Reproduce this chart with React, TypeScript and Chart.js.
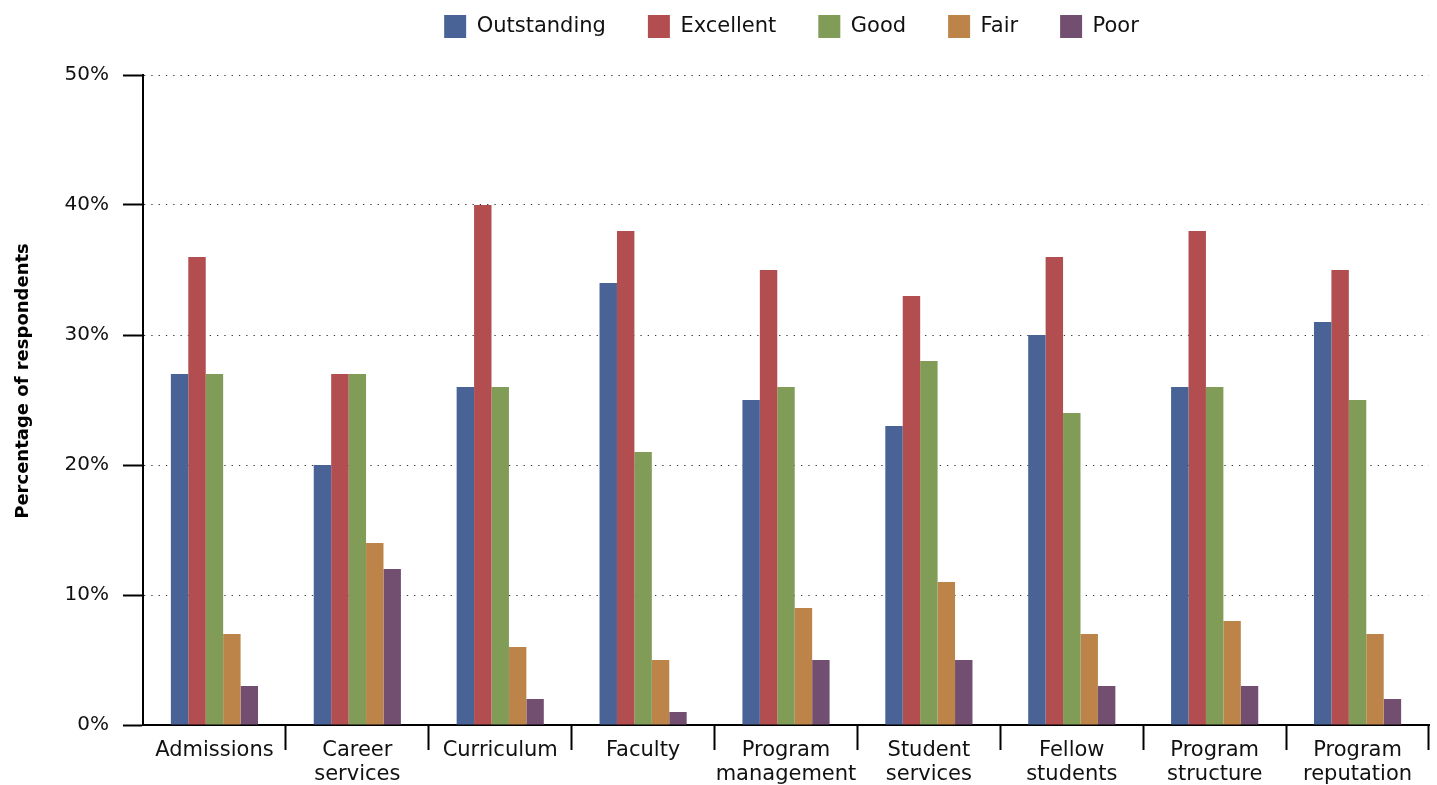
import React, { useEffect, useRef } from "react";
import { Chart, registerables } from "chart.js";

Chart.register(...registerables);

const categories: (string | string[])[] = [
  "Admissions",
  ["Career", "services"],
  "Curriculum",
  "Faculty",
  ["Program", "management"],
  ["Student", "services"],
  ["Fellow", "students"],
  ["Program", "structure"],
  ["Program", "reputation"],
];

const seriesNames = ["Outstanding", "Excellent", "Good", "Fair", "Poor"];
const seriesColors = ["#4a6396", "#b34e50", "#819c57", "#bd844a", "#724f71"];

const outstanding = [27, 20, 26, 34, 25, 23, 30, 26, 31];
const excellent = [36, 27, 40, 38, 35, 33, 36, 38, 35];
const good = [27, 27, 26, 21, 26, 28, 24, 26, 25];
const fair = [7, 14, 6, 5, 9, 11, 7, 8, 7];
const poor = [3, 12, 2, 1, 5, 5, 3, 3, 2];

const seriesValues = [outstanding, excellent, good, fair, poor];
const yTicks = [0, 10, 20, 30, 40, 50];
const yTitle = "Percentage of respondents";

const FONT = "'DejaVu Sans', sans-serif";

const layoutPlugin = {
  id: "layoutFix",
  beforeLayout(chart: any) {
    const lg = chart.legend;
    if (lg && !lg.__patched) {
      const orig = lg.fit.bind(lg);
      lg.fit = function () {
        orig();
        this.height = 102;
      };
      lg.__patched = true;
    }
  },
  afterLayout(chart: any) {
    const lg = chart.legend;
    if (lg) {
      lg.left += 77;
      lg.right += 77;
    }
  },
  afterDraw(chart: any) {
    const ctx = chart.ctx;
    ctx.save();
    ctx.translate(23, 381);
    ctx.rotate(-Math.PI / 2);
    ctx.font = `bold 18px ${FONT}`;
    ctx.fillStyle = "#000";
    ctx.textAlign = "center";
    ctx.textBaseline = "middle";
    ctx.fillText(yTitle, 0, 0);
    ctx.restore();
  },
};

export default function App() {
  const ref = useRef<HTMLCanvasElement | null>(null);
  useEffect(() => {
    if (!ref.current) return;
    const chart = new Chart(ref.current, {
      type: "bar",
      data: {
        labels: categories,
        datasets: seriesNames.map((name, i) => ({
          label: name,
          data: seriesValues[i],
          backgroundColor: seriesColors[i],
          borderWidth: 0,
          categoryPercentage: 0.61,
          barPercentage: 1,
        })),
      },
      plugins: [layoutPlugin],
      options: {
        animation: false,
        responsive: true,
        maintainAspectRatio: false,
        layout: { padding: { top: -27, right: 8, left: 0, bottom: 0 } },
        plugins: {
          tooltip: { enabled: false },
          legend: {
            position: "top",
            labels: {
              boxWidth: 22,
              boxHeight: 23,
              padding: 42,
              color: "#111",
              font: { family: FONT, size: 21 },
            },
          },
        },
        scales: {
          x: {
            grid: {
              offset: true,
              drawOnChartArea: false,
              drawTicks: true,
              tickLength: 25,
              tickWidth: 2,
              tickColor: (ctx: any) => (ctx.index === 0 ? "rgba(0,0,0,0)" : "#000"),
            },
            border: { display: true, color: "#000", width: 2 },
            ticks: {
              color: "#111",
              padding: -11,
              maxRotation: 0,
              autoSkip: false,
              font: { family: FONT, size: 21, lineHeight: 1.12 },
            },
            afterFit: (scale: any) => {
              scale.height = 60;
            },
          },
          y: {
            min: 0,
            max: 50,
            afterBuildTicks: (scale: any) => {
              scale.ticks = yTicks.map((v) => ({ value: v }));
            },
            grid: {
              color: "#333",
              lineWidth: 1,
              tickBorderDash: [],
              tickLength: 20,
              tickWidth: 2,
              tickColor: "#000",
            } as any,
            border: { display: true, color: "#000", width: 2, dash: [1.3, 6] } as any,
            ticks: {
              color: "#111",
              padding: 14,
              font: { family: FONT, size: 20 },
              callback: (v: any) => v + "%",
            },
            title: { display: false },
            afterFit: (scale: any) => {
              scale.width = 143;
            },
          },
        },
      } as any,
    });
    return () => chart.destroy();
  }, []);
  return (
    <div style={{ position: "absolute", left: 0, top: 0, width: 1437, height: 785, background: "#fff" }}>
      <canvas ref={ref} />
    </div>
  );
}
